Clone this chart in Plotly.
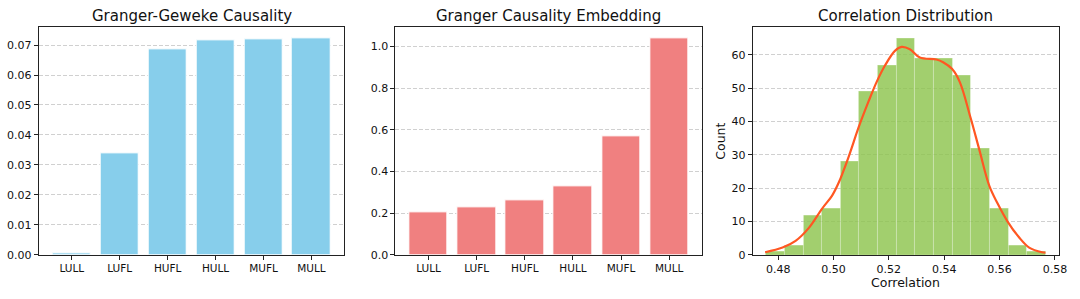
import numpy as np
import plotly.graph_objects as go

# ---- data ----
categories = ["LULL", "LUFL", "HUFL", "HULL", "MUFL", "MULL"]
gg_causality = [0.0005, 0.0339, 0.0686, 0.0716, 0.0720, 0.0723]
gc_embedding = [0.2045, 0.228, 0.261, 0.329, 0.569, 1.039]

hist_min = 0.4756
hist_max = 0.5766
hist_counts = [1, 3, 12, 14, 28, 49, 57, 65, 59, 59, 54, 32, 14, 3, 1]

kde_x = [0.4753, 0.4816, 0.4863, 0.4911, 0.4959, 0.4995, 0.5019, 0.5055, 0.5091,
         0.5127, 0.5156, 0.5186, 0.5222, 0.5246, 0.5276, 0.5312, 0.5372, 0.5396,
         0.5428, 0.5456, 0.5495, 0.5527, 0.5563, 0.5593, 0.5629, 0.5671, 0.5707,
         0.5754, 0.5766]
kde_y = [0.8, 2.2, 4.2, 8.1, 13.9, 17.8, 21.7, 29.5, 38.3, 46.1, 51.9, 56.8, 61.2,
         62.4, 61.7, 59.2, 58.6, 57.8, 55.8, 51.9, 41.2, 31.5, 20.7, 15.4, 10.0,
         5.2, 2.2, 0.8, 0.7]

hist_xticks = [0.48, 0.50, 0.52, 0.54, 0.56, 0.58]

# ---- layout constants ----
W, H = 1080, 299
FONT = "DejaVu Sans"
dom1 = [39 / W, 347 / W]
dom2 = [398.3 / W, 707.7 / W]
dom3 = [758.3 / W, 1066.7 / W]
ydom = [1 - 261 / H, 1 - 28 / H]

fig = go.Figure()
xpos = list(range(len(categories)))

fig.add_trace(go.Bar(x=xpos, y=gg_causality, width=0.8,
                     marker=dict(color="#87CEEB", line=dict(color="white", width=1)),
                     xaxis="x", yaxis="y", showlegend=False))
fig.add_trace(go.Bar(x=xpos, y=gc_embedding, width=0.8,
                     marker=dict(color="#F08080", line=dict(color="white", width=1)),
                     xaxis="x2", yaxis="y2", showlegend=False))

edges = np.linspace(hist_min, hist_max, len(hist_counts) + 1)
centers = (edges[:-1] + edges[1:]) / 2
bw = edges[1] - edges[0]
fig.add_trace(go.Bar(x=centers, y=hist_counts, width=bw,
                     marker=dict(color="#8BC34A", opacity=0.8,
                                 line=dict(color="rgba(255,255,255,0.5)", width=0.5)),
                     xaxis="x3", yaxis="y3", showlegend=False))
fig.add_trace(go.Scatter(x=kde_x, y=kde_y, mode="lines",
                         line=dict(color="#FF5722", width=2.2, shape="spline", smoothing=1.0),
                         xaxis="x3", yaxis="y3", showlegend=False))

axis_common = dict(showline=True, mirror=True, linecolor="#222", linewidth=1,
                   ticks="outside", ticklen=4, tickcolor="#222",
                   tickfont=dict(family=FONT, size=11, color="#111"),
                   zeroline=False)
grid = dict(showgrid=True, gridcolor="#d0d0d0", griddash="4px,2px", gridwidth=0.8)
xcat_font = dict(family=FONT, size=10.5, color="#111")

fig.update_layout(
    width=W, height=H,
    margin=dict(l=0, r=0, t=0, b=0),
    paper_bgcolor="white", plot_bgcolor="white",
    bargap=0,
    font=dict(family=FONT, color="#111"),
    xaxis=dict(domain=dom1, anchor="y", range=[-0.69, 5.69], tickvals=xpos,
               ticktext=categories, showgrid=False, **{**axis_common, "tickfont": xcat_font}),
    yaxis=dict(domain=ydom, anchor="x", range=[0, 0.0759],
               tickvals=[0, 0.01, 0.02, 0.03, 0.04, 0.05, 0.06, 0.07],
               tickformat=".2f", **grid, **axis_common),
    xaxis2=dict(domain=dom2, anchor="y2", range=[-0.69, 5.69], tickvals=xpos,
                ticktext=categories, showgrid=False, **{**axis_common, "tickfont": xcat_font}),
    yaxis2=dict(domain=ydom, anchor="x2", range=[0, 1.091], tickvals=[0, 0.2, 0.4, 0.6, 0.8, 1.0],
                tickformat=".1f", **grid, **axis_common),
    xaxis3=dict(domain=dom3, anchor="y3", range=[0.4708, 0.5814], tickvals=hist_xticks,
                tickformat=".2f", showgrid=False, **axis_common),
    yaxis3=dict(domain=ydom, anchor="x3", range=[0, 68.25], tickvals=[0, 10, 20, 30, 40, 50, 60],
                **grid, **axis_common),
)

titles = ["Granger-Geweke Causality", "Granger Causality Embedding", "Correlation Distribution"]
for dom, t in zip([dom1, dom2, dom3], titles):
    fig.add_annotation(text=t, x=(dom[0] + dom[1]) / 2, y=1 - 16 / H, xref="paper", yref="paper",
                       xanchor="center", yanchor="middle", showarrow=False,
                       font=dict(family=FONT, size=15, color="#111"))

fig.add_annotation(text="Correlation", x=(dom3[0] + dom3[1]) / 2, y=1 - 289 / H,
                   xref="paper", yref="paper", xanchor="center", yanchor="middle",
                   showarrow=False, font=dict(family=FONT, size=12.5, color="#111"))
fig.add_annotation(text="Count", x=725 / W, y=(ydom[0] + ydom[1]) / 2,
                   xref="paper", yref="paper", xanchor="center", yanchor="middle",
                   textangle=-90, showarrow=False, font=dict(family=FONT, size=12.5, color="#111"))

fig.write_html("out.html", config={"displayModeBar": False},
               post_script="document.body.style.margin='0';document.body.style.overflow='hidden';")
